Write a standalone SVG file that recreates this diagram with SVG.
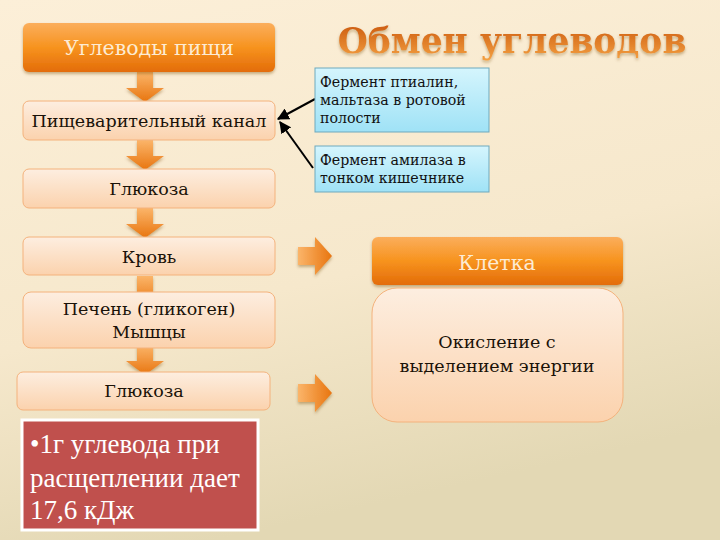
<svg xmlns="http://www.w3.org/2000/svg" width="720" height="540" viewBox="0 0 720 540">
<defs>
<linearGradient id="bg" x1="0" y1="0" x2="0.3" y2="1">
<stop offset="0" stop-color="#fcefd8"/>
<stop offset="0.6" stop-color="#f6e8cc"/>
<stop offset="1" stop-color="#e3d8b4"/>
</linearGradient>
<linearGradient id="org" x1="0" y1="0" x2="0" y2="1">
<stop offset="0" stop-color="#fbae5c"/>
<stop offset="0.5" stop-color="#f7931e"/>
<stop offset="1" stop-color="#e36c0a"/>
</linearGradient>
<linearGradient id="pch" x1="0" y1="0" x2="0" y2="1">
<stop offset="0" stop-color="#fdeee0"/>
<stop offset="1" stop-color="#fbd2ad"/>
</linearGradient>
<linearGradient id="blu" x1="0" y1="0" x2="0" y2="1">
<stop offset="0" stop-color="#d5f5fd"/>
<stop offset="1" stop-color="#9fe2f6"/>
</linearGradient>
<linearGradient id="arw" x1="0" y1="0" x2="0" y2="1">
<stop offset="0" stop-color="#fbb56a"/>
<stop offset="1" stop-color="#e8750f"/>
</linearGradient>
<linearGradient id="arr" x1="0" y1="0" x2="1" y2="0">
<stop offset="0" stop-color="#fbb56a"/>
<stop offset="1" stop-color="#e8750f"/>
</linearGradient>
<linearGradient id="ttl" x1="0" y1="0" x2="0" y2="1">
<stop offset="0" stop-color="#c9560c"/>
<stop offset="1" stop-color="#f5a243"/>
</linearGradient>
<filter id="sh" x="-10%" y="-20%" width="120%" height="150%">
<feDropShadow dx="0" dy="2" stdDeviation="1.5" flood-color="#7a4a10" flood-opacity="0.4"/>
</filter>
<marker id="ah" viewBox="0 0 10 10" refX="9" refY="5" markerWidth="6" markerHeight="6" orient="auto">
<path d="M0,0 L10,5 L0,10 z" fill="#000"/>
</marker>
<path id="dn" d="M-8,0 H8 V16 H19 L0,30 L-19,16 H-8 Z"/>
<path id="rt" d="M0,-9 H17 V-19 L34,0 L17,19 V9 H0 Z"/>
</defs>
<style>
.o{fill:url(#org);filter:url(#sh)}
.p{fill:url(#pch);stroke:#f4b27c;stroke-width:1}
.b{fill:url(#blu);stroke:#6fa9bd;stroke-width:1}
.t{font-size:17.5px;fill:#1a1208;text-anchor:middle}
.w{font-size:20.5px;fill:#fdebd3;text-anchor:middle}
.s{font-size:14.2px;fill:#111}
.r{font-size:27px;fill:#fff}
.da{fill:url(#arw);filter:url(#sh)}
.ra{fill:url(#arr);filter:url(#sh)}
</style>
<rect width="720" height="540" fill="url(#bg)"/>

<text x="512" y="53" font-family="'DejaVu Serif', serif" font-weight="bold" font-size="34.5" fill="url(#ttl)" text-anchor="middle" style="filter:url(#sh)">Обмен углеводов</text>

<g id="connectors">
<use href="#dn" x="145" y="72" class="da"/>
<use href="#dn" x="145" y="140" class="da"/>
<use href="#dn" x="145" y="208" class="da"/>
<use href="#dn" x="145" y="276" class="da"/>
<use href="#dn" x="145" y="345" class="da"/>
<use href="#rt" x="298" y="256" class="ra"/>
<use href="#rt" x="298" y="393" class="ra"/>
<line x1="315" y1="99" x2="278" y2="119" stroke="#000" stroke-width="2" marker-end="url(#ah)"/>
<line x1="313" y1="168" x2="280" y2="122" stroke="#000" stroke-width="2" marker-end="url(#ah)"/>
</g>

<g id="n1"><rect x="23" y="23" width="252" height="49" rx="6" class="o"/><text x="149" y="55" class="w" font-family="'DejaVu Serif', serif">Углеводы пищи</text></g>
<g id="n2"><rect x="23" y="101" width="252" height="39" rx="6" class="p"/><text x="149" y="127" class="t" font-family="'DejaVu Serif', serif">Пищеварительный канал</text></g>
<g id="n3"><rect x="23" y="169" width="252" height="39" rx="6" class="p"/><text x="149" y="195" class="t" font-family="'DejaVu Serif', serif">Глюкоза</text></g>
<g id="n4"><rect x="23" y="237" width="252" height="38" rx="6" class="p"/><text x="149" y="263" class="t" font-family="'DejaVu Serif', serif">Кровь</text></g>
<g id="n5"><rect x="23" y="292" width="252" height="56" rx="8" class="p"/><text x="149" y="315" class="t" font-family="'DejaVu Serif', serif">Печень (гликоген)</text><text x="149" y="338" class="t" font-family="'DejaVu Serif', serif">Мышцы</text></g>
<g id="n6"><rect x="17" y="372" width="253" height="38" rx="6" class="p"/><text x="144" y="397" class="t" font-family="'DejaVu Serif', serif">Глюкоза</text></g>

<g id="e1"><rect x="315" y="68" width="174" height="64" class="b"/>
<text class="s" font-family="'DejaVu Serif', serif"><tspan x="320" y="87">Фермент птиалин,</tspan><tspan x="320" y="105">мальтаза в ротовой</tspan><tspan x="320" y="123">полости</tspan></text></g>
<g id="e2"><rect x="315" y="146" width="174" height="46" class="b"/>
<text class="s" font-family="'DejaVu Serif', serif"><tspan x="320" y="165">Фермент амилаза в</tspan><tspan x="320" y="183">тонком кишечнике</tspan></text></g>

<g id="n8"><rect x="372" y="237" width="251" height="48" rx="6" class="o"/><text x="497" y="270" class="w" font-size="22.5" font-family="'DejaVu Serif', serif">Клетка</text></g>
<g id="n9"><rect x="372" y="288" width="251" height="134" rx="25" class="p"/><text x="497" y="348" class="t" font-family="'DejaVu Serif', serif">Окисление с</text><text x="497" y="372" class="t" font-family="'DejaVu Serif', serif">выделением энергии</text></g>

<g id="n7"><rect x="22" y="420" width="236" height="110" fill="#c0504d" stroke="#fff" stroke-width="3"/>
<text class="r" font-family="'Liberation Serif', serif"><tspan x="30" y="453">•1г углевода при</tspan><tspan x="30" y="487">расщеплении дает</tspan><tspan x="30" y="519">17,6 кДж</tspan></text></g>
</svg>
